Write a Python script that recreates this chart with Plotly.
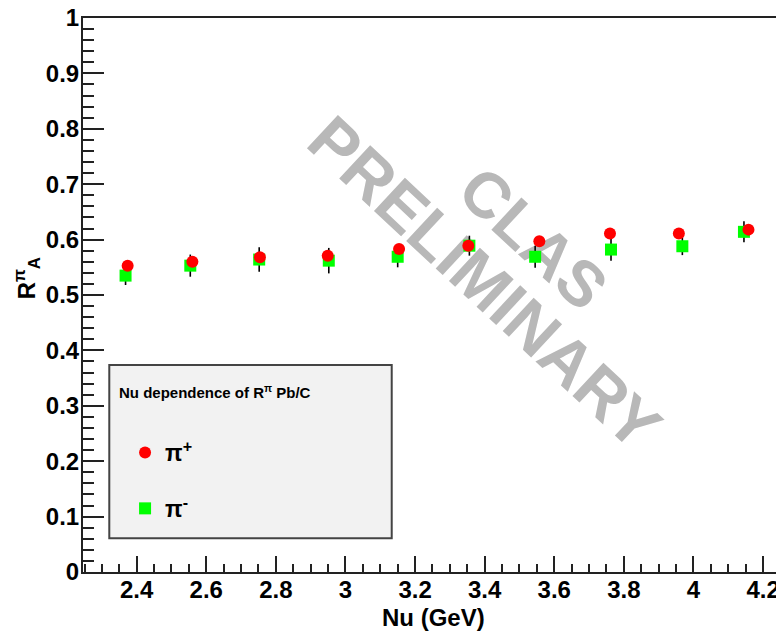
import plotly.graph_objects as go

# ---- data ----
nu_pip = [2.374, 2.560, 2.754, 2.949, 3.154, 3.353, 3.557, 3.760, 3.958, 4.158]
ra_pip = [0.553, 0.560, 0.568, 0.571, 0.583, 0.589, 0.597, 0.611, 0.611, 0.618]

nu_pim = [2.368, 2.554, 2.752, 2.952, 3.150, 3.356, 3.545, 3.763, 3.968, 4.145]
ra_pim = [0.535, 0.553, 0.564, 0.562, 0.569, 0.589, 0.569, 0.582, 0.588, 0.614]
err_pim = [0.017, 0.020, 0.022, 0.023, 0.019, 0.018, 0.020, 0.020, 0.016, 0.019]

x_range = [2.2457, 4.2601]
y_range = [0.0, 1.0]

FONT = "Liberation Sans, Arial, Helvetica, sans-serif"

fig = go.Figure()

fig.add_trace(go.Scatter(
    x=nu_pim, y=ra_pim, mode="markers", name="π<sup>-</sup>",
    legendgroup="pim", legendrank=2,
    marker=dict(symbol="square", size=12, color="#00ff00", line=dict(width=0)),
    error_y=dict(type="data", array=err_pim, color="black", thickness=1.6, width=0),
))
fig.add_trace(go.Scatter(
    x=nu_pip, y=ra_pip, mode="markers", name="π<sup>+</sup>",
    legendgroup="pip", legendrank=1,
    marker=dict(symbol="circle", size=12, color="#ff0000", line=dict(width=0)),
))

axis_common = dict(
    showline=True, linecolor="#222222", linewidth=2,
    ticks="inside", tickcolor="#222222", tickwidth=1.5,
    showgrid=False, zeroline=False, automargin=False,
    ticklabeloverflow="allow",
    tickfont=dict(family=FONT, size=24, color="black", weight="bold"),
)

fig.update_xaxes(
    range=x_range, dtick=0.2, tick0=2.0, ticklen=16, mirror=True,
    minor=dict(dtick=0.05, tick0=2.0, ticks="inside", ticklen=8, tickcolor="#222222", tickwidth=1.5),
    ticklabelstandoff=-5,
    **axis_common,
)
fig.update_yaxes(
    range=y_range, dtick=0.1, tick0=0, ticklen=21,
    minor=dict(dtick=0.02, tick0=0, ticks="inside", ticklen=11, tickcolor="#222222", tickwidth=1.5),
    ticklabelstandoff=-3,
    **axis_common,
)

shapes = [
    # legend box
    dict(type="rect", xref="paper", yref="paper", x0=0.0375, x1=0.4404, y0=0.0608, y1=0.3736,
         fillcolor="#f2f2f2", line=dict(color="#444444", width=2), layer="above"),
    # watermark
    dict(type="rect", xref="paper", yref="paper", x0=0.569, x1=0.589, y0=0.52, y1=0.54,
         line=dict(width=0), fillcolor="rgba(0,0,0,0)", layer="below",
         label=dict(text="PRELIMINARY", textangle=43, textposition="middle center",
                    font=dict(family=FONT, size=66, color="#b8b8b8", weight="bold"))),
    dict(type="rect", xref="paper", yref="paper", x0=0.638, x1=0.658, y0=0.60, y1=0.62,
         line=dict(width=0), fillcolor="rgba(0,0,0,0)", layer="below",
         label=dict(text="CLAS", textangle=43, textposition="middle center",
                    font=dict(family=FONT, size=64, color="#b8b8b8", weight="bold"))),
]

annotations = [
    dict(text="<b>Nu (GeV)</b>", xref="paper", yref="paper", x=0.5, y=-0.083,
         xanchor="center", yanchor="middle", showarrow=False,
         font=dict(family=FONT, size=24, color="black")),
    dict(text="<b>R<sup>π</sup><sub>A</sub></b>", xref="paper", yref="paper", x=-0.0799, y=0.53,
         xanchor="center", yanchor="middle", showarrow=False, textangle=-90,
         font=dict(family=FONT, size=24, color="black")),
    dict(text="<b>Nu dependence of R<sup>π</sup> Pb/C</b>", xref="paper", yref="paper", x=0.048, y=0.326,
         xanchor="left", yanchor="middle", showarrow=False,
         font=dict(family=FONT, size=15, color="black")),
]

# the page body adds an 8 px margin, so the figure is shifted by that amount
fig.update_layout(
    width=776, height=625,
    margin=dict(l=75, r=0, t=10, b=61),
    paper_bgcolor="white", plot_bgcolor="white",
    shapes=shapes, annotations=annotations,
    showlegend=True,
    legend=dict(x=0.06, y=0.2545, xanchor="left", yanchor="top",
                bgcolor="rgba(0,0,0,0)", borderwidth=0, tracegroupgap=23,
                font=dict(family=FONT, size=23, color="black", weight="bold")),
)

fig.write_html("out.html")
